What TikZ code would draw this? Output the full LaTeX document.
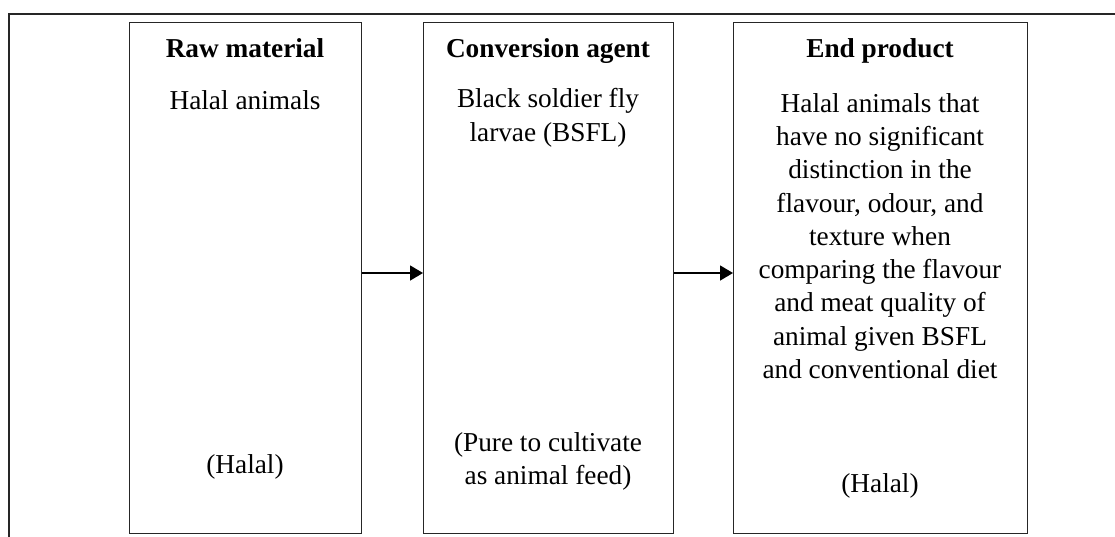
\documentclass[tikz,border=0pt]{standalone}
\usepackage{fontspec}
\setmainfont{Liberation Serif}
\usetikzlibrary{arrows.meta}
\begin{document}
\begin{tikzpicture}[x=1pt,y=-1pt,
  stagebox/.style={draw=black!85,line width=1.3pt,rectangle,inner sep=0pt,anchor=north west},
  txt/.style={anchor=base,inner sep=0pt,font=\fontsize{27.3}{33.3}\selectfont},
  ttl/.style={txt,font=\fontsize{27.3}{33.3}\selectfont\bfseries},
  para/.style={txt,align=center,anchor=north},
  conn/.style={line width=1.5pt,-{Triangle[length=13pt,width=15pt]}}]
\useasboundingbox (0,0) rectangle (1115,536);
% outer frame (clipped at right and bottom)
\draw[line width=1.3pt,black!85] (9,537) -- (9,14) -- (1116,14);
% boxes
\node[stagebox,minimum width=232pt,minimum height=511pt] (raw) at (129,22) {};
\node[stagebox,minimum width=250pt,minimum height=511pt] (conv) at (423,22) {};
\node[stagebox,minimum width=294pt,minimum height=511pt] (end) at (733,22) {};
% titles
\node[ttl] (t1) at (245,57) {Raw material};
\node[ttl] (t2) at (548,57) {Conversion agent};
\node[ttl] (t3) at (880,57) {End product};
% contents
\node[txt] (c1) at (245,109) {Halal animals};
\node[para] (c2) at (548,88.5) {Black soldier fly\\larvae (BSFL)};
\node[para] (c3) at (880,93) {Halal animals that\\have no significant\\distinction in the\\flavour, odour, and\\texture when\\comparing the flavour\\and meat quality of\\animal given BSFL\\and conventional diet};
% bottom notes
\node[txt] (h1) at (245,473) {(Halal)};
\node[para] (p2) at (548,432) {(Pure to cultivate\\as animal feed)};
\node[txt] (h3) at (880,492) {(Halal)};
% connectors
\draw[conn] (raw.east |- {(0,273)}) -- (conv.west |- {(0,273)});
\draw[conn] (conv.east |- {(0,273)}) -- (end.west |- {(0,273)});
\end{tikzpicture}
\end{document}
